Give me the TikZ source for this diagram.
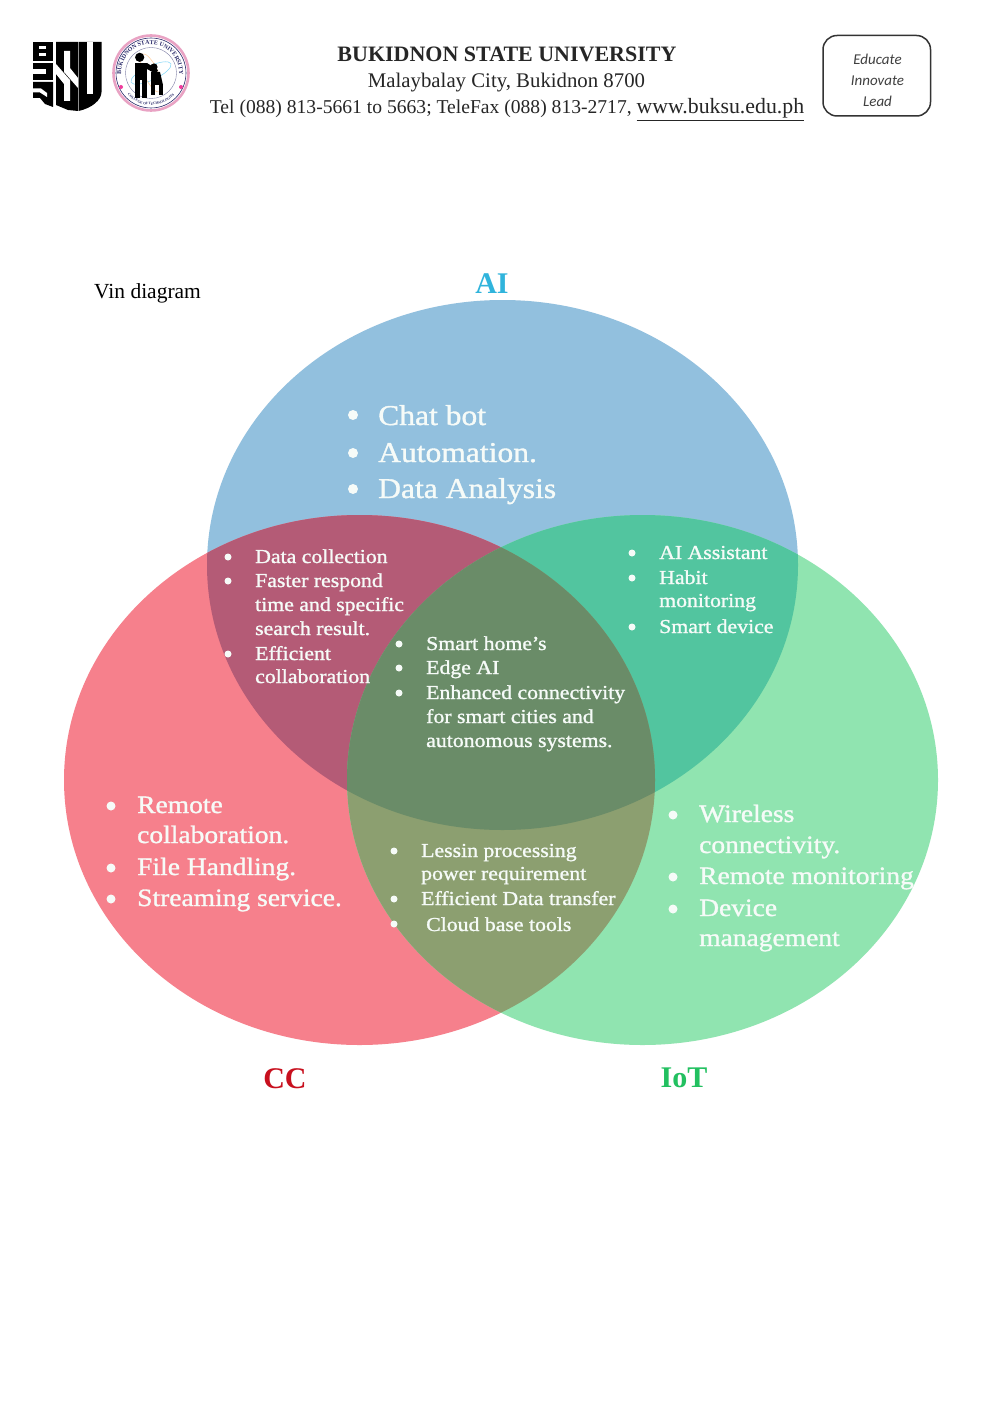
\documentclass[tikz,border=0pt]{standalone}
\usepackage{fontspec}
\setmainfont{Liberation Serif}
\newfontfamily\wfont[FakeStretch=1.1,FakeBold=1.2]{Liberation Serif}
\newfontfamily\cfont[ItalicFont=Carlito Italic]{Carlito}
\usetikzlibrary{decorations.text}
\definecolor{cAI}{HTML}{92C0DE}
\definecolor{cCC}{HTML}{F6808C}
\definecolor{cIO}{HTML}{90E4B0}
\definecolor{cAC}{HTML}{B45B76}
\definecolor{cAI2}{HTML}{52C59F}
\definecolor{cCI}{HTML}{8C9F70}
\definecolor{cALL}{HTML}{6A8C68}
\definecolor{wtxt}{HTML}{F6FBF8}
\definecolor{navy}{HTML}{2A2A6A}
\definecolor{pinkr}{HTML}{E9A3C4}
\tikzset{
  hdr/.style={anchor=base,inner sep=0pt,text=black!85},
  itm/.style={anchor=base west,inner sep=0pt,text=wtxt},
  big/.style={itm,font=\wfont\fontsize{28.7}{30}\selectfont},
  mid/.style={itm,font=\wfont\fontsize{25}{27}\selectfont},
  sml/.style={itm,font=\wfont\fontsize{19.8}{22}\selectfont},
  lab/.style={anchor=base,inner sep=0pt,font=\bfseries\fontsize{30}{32}\selectfont},
  mot/.style={anchor=center,inner sep=0pt,text=black!75,font=\cfont\itshape\fontsize{15}{17}\selectfont}
}
\newcommand{\bul}[3]{\fill[wtxt] (#1,#2) circle (#3);}
\begin{document}
\begin{tikzpicture}[x=1pt,y=-1pt]
\useasboundingbox (0,0) rectangle (982,1407);
\fill[white] (0,0) rectangle (982,1407);
% logo BUK + S + V
\fill[black] (33,42) rectangle (53,61.5);
\fill[white] (39,46.5) rectangle (46,49.5);
\fill[white] (39,53.5) rectangle (46,56.5);
\fill[black] (33,63) rectangle (53,80.5);
\fill[white] (33,69.5) rectangle (46,74);
\fill[black] (33,82) -- (53,82) -- (53,107) -- (45,104) -- (40,98) -- (33,98) -- cycle;
\fill[white] (33,88.5) -- (41,88.5) -- (47,93) -- (47,97) -- (40,92.5) -- (33,92.5) -- cycle;
\fill[black] (56,42) -- (78,42) -- (78,111) -- (68,110) -- (56,105) -- cycle;
\fill[white] (64,51) -- (70,51) -- (70,68) -- (78,78) -- (78,88) -- (64,72) -- cycle;
\fill[white] (70,101) -- (64,101) -- (64,84) -- (56,74) -- (56,64) -- (70,80) -- cycle;
\fill[black] (78.6,42) -- (101.5,42) -- (101.5,92) .. controls (101.5,100) and (92,108) .. (78.6,111) -- cycle;
\fill[white] (86.5,42) rectangle (93,94);
% seal
\draw[pinkr,line width=2.6pt] (151,73) circle (37.5);
\draw[navy,line width=.6pt] (151,73) circle (35);
\draw[navy!60,line width=.4pt] (151,73) circle (25.5);
\fill[magenta!70!pink] (121,87) circle (2);
\fill[magenta!70!pink] (181,87) circle (2);
\path[postaction={decorate,decoration={text along path,text align=center,
  text={|\fontsize{6}{7}\selectfont\bfseries\color{navy}|BUKIDNON STATE UNIVERSITY}}}]
  (123.3,84.2) arc[start angle=158,end angle=382,radius=29];
\path[postaction={decorate,decoration={text along path,text align=center,
  text={|\fontsize{3.5}{4}\selectfont\bfseries\color{navy}|COLLEGE OF TECHNOLOGIES}}}]
  (126.5,93.6) arc[start angle=140,end angle=40,radius=32];
\draw[cyan!50,line width=.5pt,rotate around={25:(151,73)}] (151,73) ellipse (22 and 7);
\draw[orange!40,line width=.5pt,rotate around={-65:(151,73)}] (151,73) ellipse (21 and 7);
\fill[black] (139.7,57.3) circle (4.6);
\fill[black] (154,67) circle (3.6);
\fill[black] (135,63) rectangle (147,80);
\fill[black] (135,80) rectangle (140,98);
\fill[black] (142,80) rectangle (147,98);
\fill[black] (147,63) -- (158,70) -- (156,74) -- (147,69) -- cycle;
\fill[black] (151,72) -- (160,72) -- (163,85) -- (151,85) -- cycle;
\fill[black] (151,85) rectangle (155,95);
\fill[black] (159,85) rectangle (163,95);
% header
\node[hdr,font=\bfseries\fontsize{22}{24}\selectfont] (title) at (507,61.5) {BUKIDNON STATE UNIVERSITY};
\node[hdr,font=\fontsize{20.8}{22}\selectfont] (city) at (506.5,88) {Malaybalay City, Bukidnon 8700};
\node[hdr,font=\fontsize{19.6}{22}\selectfont] (tel) at (507,114) {Tel (088) 813-5661 to 5663; TeleFax (088) 813-2717, {\fontsize{21.8}{22}\selectfont\underline{www.buksu.edu.ph}}};
\draw[black!80,line width=1.5pt,rounded corners=14pt] (823,35.5) rectangle (930.5,116);
\node[mot] (m1) at (877.5,59.5) {Educate};
\node[mot] (m2) at (877.5,80.5) {Innovate};
\node[mot] (m3) at (877.5,101.5) {Lead};
% venn
\def\eAI{(502.5,565) ellipse (295.5 and 265)}
\def\eCC{(359.5,780) ellipse (295.5 and 265)}
\def\eIO{(642.5,780) ellipse (295.5 and 265)}
\fill[cAI] \eAI;
\fill[cCC] \eCC;
\fill[cIO] \eIO;
\begin{scope}\clip \eAI; \fill[cAC] \eCC; \fill[cAI2] \eIO; \end{scope}
\begin{scope}\clip \eCC; \fill[cCI] \eIO; \end{scope}
\begin{scope}\clip \eAI; \clip \eCC; \fill[cALL] \eIO; \end{scope}
% labels
\definecolor{lAI}{HTML}{30B4DC}
\definecolor{lCC}{HTML}{C8101E}
\definecolor{lIO}{HTML}{22C060}
\node[anchor=base west,inner sep=0pt,font=\fontsize{21.5}{23}\selectfont] (vin) at (94,298) {Vin diagram};
\node[lab,text=lAI] (ai) at (492,293) {AI};
\node[lab,text=lCC] (cc) at (285,1088) {CC};
\node[lab,text=lIO] (iot) at (684,1087) {IoT};
% AI
\bul{353}{415}{5}\bul{353}{453}{5}\bul{353}{489}{5}
\node[big] (a1) at (378,425) {Chat bot};
\node[big] (a2) at (378,462) {Automation.};
\node[big] (a3) at (378,498) {Data Analysis};
% AI-CC
\bul{228}{557}{3.5}\bul{228}{581}{3.5}\bul{228}{654}{3.5}
\node[sml] (b1) at (255,563) {Data collection};
\node[sml] (b2) at (255,587) {Faster respond};
\node[sml] (b3) at (255,611) {time and specific};
\node[sml] (b4) at (255,635) {search result.};
\node[sml] (b5) at (255,660) {Efficient};
\node[sml] (b6) at (255,683) {collaboration};
% all
\bul{399}{644}{3.5}\bul{399}{668}{3.5}\bul{399}{693}{3.5}
\node[sml] (c1) at (426,650) {Smart home’s};
\node[sml] (c2) at (426,674) {Edge AI};
\node[sml] (c3) at (426,699) {Enhanced connectivity};
\node[sml] (c4) at (426,723) {for smart cities and};
\node[sml] (c5) at (426,747) {autonomous systems.};
% AI-IoT
\bul{632}{553}{3.5}\bul{632}{578}{3.5}\bul{632}{627}{3.5}
\node[sml] (d1) at (659,559) {AI Assistant};
\node[sml] (d2) at (659,584) {Habit};
\node[sml] (d3) at (659,607) {monitoring};
\node[sml] (d4) at (659,633) {Smart device};
% CC-IoT
\bul{394}{851}{3.5}\bul{394}{899}{3.5}\bul{394}{924}{3.5}
\node[sml] (e1) at (421,857) {Lessin processing};
\node[sml] (e2) at (421,880) {power requirement};
\node[sml] (e3) at (421,905) {Efficient Data transfer};
\node[sml] (e4) at (426,931) {Cloud base tools};
% CC
\bul{111}{806}{4.5}\bul{111}{868}{4.5}\bul{111}{899}{4.5}
\node[mid] (f1) at (137,813) {Remote};
\node[mid] (f2) at (137,843) {collaboration.};
\node[mid] (f3) at (137,875) {File Handling.};
\node[mid] (f4) at (137,906) {Streaming service.};
% IoT
\bul{673}{815}{4.5}\bul{673}{877}{4.5}\bul{673}{909}{4.5}
\node[mid] (g1) at (699,822) {Wireless};
\node[mid] (g2) at (699,853) {connectivity.};
\node[mid] (g3) at (699,884) {Remote monitoring};
\node[mid] (g4) at (699,916) {Device};
\node[mid] (g5) at (699,946) {management};
\end{tikzpicture}
\end{document}
